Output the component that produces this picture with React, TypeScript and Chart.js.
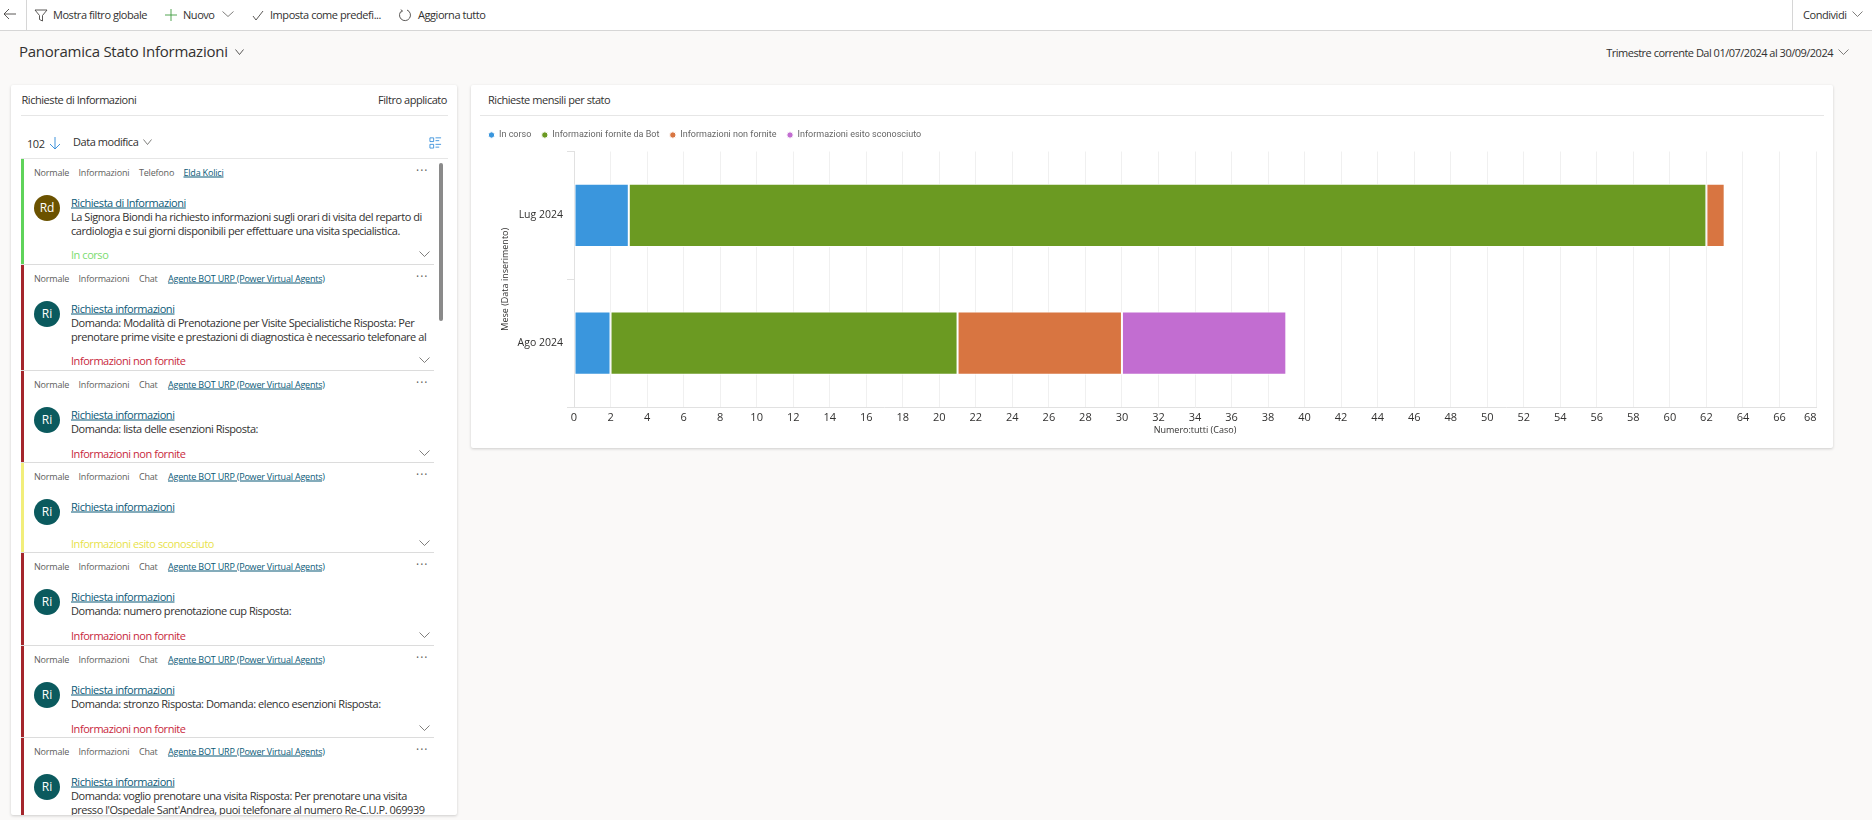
import { useRef, useEffect } from "react";
import { Chart, registerables } from "chart.js";

Chart.register(...registerables);

const months = ["Lug 2024", "Ago 2024"];
const inCorso = [3, 2];
const fornite = [59, 19];
const nonFornite = [1, 9];
const esitoSconosciuto = [null, 9];
const FONT = "'Open Sans', sans-serif";

const BOT = "Agente BOT URP (Power Virtual Agents)";
const TITLE = "Richiesta informazioni";
const NF = "Informazioni non fornite";
const RED = "#a4262c";

const items = [
  { top: 159, h: 106, canale: "Telefono", owner: "Elda Kolici", initials: "Rd", avatar: "#6b5200", bar: "#5fd35a", statusColor: "#7bdc6f", title: "Richiesta di Informazioni", lines: ["La Signora Biondi ha richiesto informazioni sugli orari di visita del reparto di", "cardiologia e sui giorni disponibili per effettuare una visita specialistica."], status: "In corso" },
  { top: 265, h: 106, canale: "Chat", owner: BOT, initials: "Ri", avatar: "#0b5a5e", bar: RED, statusColor: "#c8283c", title: TITLE, lines: ["Domanda: Modalità di Prenotazione per Visite Specialistiche Risposta: Per", "prenotare prime visite e prestazioni di diagnostica è necessario telefonare al"], status: NF },
  { top: 371, h: 92, canale: "Chat", owner: BOT, initials: "Ri", avatar: "#0b5a5e", bar: RED, statusColor: "#c8283c", title: TITLE, lines: ["Domanda: lista delle esenzioni Risposta:"], status: NF },
  { top: 463, h: 90, canale: "Chat", owner: BOT, initials: "Ri", avatar: "#0b5a5e", bar: "#f2ee7a", statusColor: "#e8e24a", title: TITLE, lines: [], status: "Informazioni esito sconosciuto" },
  { top: 553, h: 93, canale: "Chat", owner: BOT, initials: "Ri", avatar: "#0b5a5e", bar: RED, statusColor: "#c8283c", title: TITLE, lines: ["Domanda: numero prenotazione cup Risposta:"], status: NF },
  { top: 646, h: 92, canale: "Chat", owner: BOT, initials: "Ri", avatar: "#0b5a5e", bar: RED, statusColor: "#c8283c", title: TITLE, lines: ["Domanda: stronzo Risposta: Domanda: elenco esenzioni Risposta:"], status: NF },
  { top: 738, h: 106, canale: "Chat", owner: BOT, initials: "Ri", avatar: "#0b5a5e", bar: RED, statusColor: "#c8283c", title: TITLE, lines: ["Domanda: voglio prenotare una visita Risposta: Per prenotare una visita", "presso l'Ospedale Sant'Andrea, puoi telefonare al numero Re-C.U.P. 069939"], status: "" },
];

function T({ x, y, size = 11, ls = -0.45, color = "#323130", right, weight, link, children }: any) {
  return (
    <div
      style={{
        position: "absolute",
        left: right === undefined ? x : undefined,
        right: right === undefined ? undefined : 1872 - right,
        top: y,
        transform: "translateY(-50%)",
        fontSize: size,
        fontWeight: weight,
        letterSpacing: ls,
        color: link ? "#0b5a78" : color,
        textDecoration: link ? "underline" : undefined,
        whiteSpace: "nowrap",
        lineHeight: 1,
      }}
    >
      {children}
    </div>
  );
}

function Chevron({ x, y, w = 10, color = "#605e5c" }: any) {
  return (
    <svg style={{ position: "absolute", left: x - w / 2, top: y - 4 }} width={w} height={8}>
      <polyline points={`0.5,1.5 ${w / 2},6.5 ${w - 0.5},1.5`} fill="none" stroke={color} strokeWidth={0.8} />
    </svg>
  );
}

function Icon({ x, y, size = 14, children }: any) {
  return (
    <svg style={{ position: "absolute", left: x - size / 2, top: y - size / 2 }} width={size} height={size} viewBox="0 0 14 14" fill="none" stroke="#484644" strokeWidth={0.9}>
      {children}
    </svg>
  );
}

function Rule({ x, y, w, color = "#e6e6e6" }: any) {
  return <div style={{ position: "absolute", left: x, top: y, width: w, height: 1, background: color }} />;
}

// leaves 2px between the legend and the plot
const legendGap = {
  id: "legendGap",
  beforeInit(chart: any) {
    const fit = chart.legend.fit;
    chart.legend.fit = function () {
      fit.call(this);
      this.height += 2;
    };
  },
};

function ChartPanel() {
  const canvasRef = useRef<HTMLCanvasElement>(null);

  useEffect(() => {
    if (!canvasRef.current) return;
    const chart = new Chart(canvasRef.current, {
      type: "bar",
      plugins: [legendGap],
      data: {
        labels: months,
        datasets: [
          { label: "In corso", data: inCorso, backgroundColor: "#3a96dd" },
          { label: "Informazioni fornite da Bot", data: fornite, backgroundColor: "#6b9a22" },
          { label: "Informazioni non fornite", data: nonFornite, backgroundColor: "#d87541" },
          { label: "Informazioni esito sconosciuto", data: esitoSconosciuto, backgroundColor: "#c26dd1" },
        ].map((d) => ({ ...d, borderColor: "#ffffff", borderWidth: 1, borderSkipped: false, categoryPercentage: 1, barPercentage: 0.495 })),
      } as any,
      options: {
        indexAxis: "y",
        responsive: false,
        animation: false,
        layout: { padding: { left: 7, right: 17, top: 0, bottom: 0 } },
        plugins: {
          tooltip: { enabled: false },
          legend: {
            position: "top",
            align: "start",
            labels: {
              usePointStyle: true,
              pointStyle: "circle",
              boxWidth: 6,
              boxHeight: 4.5,
              padding: 10.5,
              color: "#666666",
              font: { family: "Roboto", size: 9 },
            },
          },
        },
        scales: {
          x: {
            stacked: true,
            min: 0,
            max: 68,
            afterFit: (s: any) => { s.height = 41; },
            ticks: { stepSize: 2, autoSkip: false, maxRotation: 0, padding: 4, color: "#323130", font: { family: FONT, size: 11 }, callback: (v: any) => (v === 68 ? "68    " : String(v)) },
            grid: { color: "#f0f0f0", drawTicks: false },
            border: { color: "#e1e1e1" },
            title: { display: true, text: "Numero:tutti (Caso)", color: "#323130", padding: { top: 0, bottom: 12 }, font: { family: FONT, size: 9 } },
          },
          y: {
            stacked: true,
            afterFit: (s: any) => { s.width = 96; },
            ticks: { padding: 4, color: "#323130", font: { family: FONT, size: 10.5 } },
            grid: { color: "#e1e1e1", drawOnChartArea: false, tickLength: 7 },
            border: { color: "#e1e1e1" },
            title: { display: true, text: "Mese (Data inserimento)", color: "#323130", padding: { top: 22, bottom: 0 }, font: { family: FONT, size: 9 } },
          },
        },
      } as any,
    });
    return () => chart.destroy();
  }, []);

  return <canvas ref={canvasRef} width={1362} height={328} style={{ position: "absolute", left: 471, top: 120, width: 1362, height: 328 }} />;
}

function Item({ item }: any) {
  const t = item.top;
  const metaX = [34, 78.5, 139];
  const statusY = t + (item.lines.length > 1 ? 95 : item.lines.length === 1 ? 82 : 80);
  return (
    <>
      <div style={{ position: "absolute", left: 21, top: t, width: 2.5, height: item.h, background: item.bar }} />
      <T x={metaX[0]} y={t + 12.5} size={9} ls={-0.2} color="#605e5c">Normale</T>
      <T x={metaX[1]} y={t + 12.5} size={9} ls={-0.2} color="#605e5c">Informazioni</T>
      <T x={metaX[2]} y={t + 12.5} size={9} ls={-0.2} color="#605e5c">{item.canale}</T>
      <T x={item.canale === "Chat" ? 168 : 183.5} y={t + 12.5} size={9} ls={-0.2} link>{item.owner}</T>
      <T x={416} y={t + 12} size={12} ls={1} color="#605e5c">···</T>
      <div style={{ position: "absolute", left: 34, top: t + 36, width: 26, height: 26, borderRadius: 13, background: item.avatar, color: "#fff", fontSize: 12, lineHeight: "26px", textAlign: "center" }}>{item.initials}</div>
      <T x={71} y={t + 43} link>{item.title}</T>
      {item.lines.map((l: string, i: number) => (
        <T key={i} x={71} y={t + 57 + i * 14}>{l}</T>
      ))}
      <T x={71} y={statusY} color={item.statusColor}>{item.status}</T>
      {item.status && <Chevron x={424} y={statusY} w={11} />}
      <Rule x={21} y={t + item.h - 1} w={413} color="#dcdcdc" />
    </>
  );
}

export default function App() {
  return (
    <div style={{ position: "fixed", inset: 0, width: 1872, height: 820, overflow: "hidden", background: "#faf9f8", fontFamily: FONT }}>
      <style>{"body{margin:0}"}</style>

      <div style={{ position: "absolute", left: 0, top: 0, width: 1872, height: 30, background: "#fff", borderBottom: "1px solid #d6d6d6" }} />
      <div style={{ position: "absolute", left: 26, top: 0, width: 1, height: 30, background: "#d6d6d6" }} />
      <div style={{ position: "absolute", left: 1792, top: 0, width: 1, height: 30, background: "#d6d6d6" }} />
      <Icon x={10} y={14}><path d="M13 7H1M6 2L1 7l5 5" /></Icon>
      <Icon x={41} y={15}><path d="M1 2h12L8.5 7.5V13l-3-1.5v-4z" /></Icon>
      <T x={53} y={14}>Mostra filtro globale</T>
      <Icon x={171} y={15}><path d="M7 1v12M1 7h12" stroke="#3f9b3f" /></Icon>
      <T x={183} y={14}>Nuovo</T>
      <Chevron x={228} y={14} w={12} />
      <Icon x={258} y={15}><path d="M2 8l3 4 7-9" /></Icon>
      <T x={270} y={14}>Imposta come predefi...</T>
      <Icon x={405} y={15}><path d="M4 2.5A5.5 5.5 0 1 0 9 2M3 1.5l1.5 1.5L3 4.5" /></Icon>
      <T x={418} y={14}>Aggiorna tutto</T>
      <T x={1803} y={14}>Condividi</T>
      <Chevron x={1857} y={14} w={11} />

      <T x={19} y={51} size={15} ls={-0.25} weight={500}>Panoramica Stato Informazioni</T>
      <Chevron x={239} y={52} w={9} color="#323130" />
      <T right={1833} y={52} ls={-0.5}>Trimestre corrente Dal 01/07/2024 al 30/09/2024</T>
      <Chevron x={1843} y={52} w={11} />

      <div style={{ position: "absolute", left: 11, top: 85, width: 446, height: 730, background: "#fff", boxShadow: "0 1px 3px rgba(0,0,0,.18)", borderRadius: 2 }} />
      <T x={21.5} y={99}>Richieste di Informazioni</T>
      <T right={447} y={99}>Filtro applicato</T>
      <Rule x={21} y={115} w={427} />
      <T x={27} y={143}>102</T>
      <Icon x={55} y={143} size={14}><path d="M7 1v12M2 8l5 5 5-5" stroke="#2b88d8" /></Icon>
      <T x={73} y={141}>Data modifica</T>
      <Chevron x={147} y={142} w={9} />
      <Icon x={435} y={142} size={13}><path d="M1 2h4v4H1zM1 9h4v4H1zM7 2h6M7 5h4M7 9h6M7 12h4" stroke="#2b88d8" /></Icon>
      <Rule x={21} y={158} w={427} />

      <div style={{ position: "absolute", left: 0, top: 0, width: 457, height: 815, overflow: "hidden" }}>
        {items.map((it, i) => (
          <Item key={i} item={it} />
        ))}
      </div>
      <div style={{ position: "absolute", left: 439, top: 163, width: 4, height: 158, borderRadius: 2, background: "#8a8a8a" }} />

      <div style={{ position: "absolute", left: 471, top: 85, width: 1362, height: 363, background: "#fff", boxShadow: "0 1px 3px rgba(0,0,0,.18)", borderRadius: 2 }} />
      <T x={488} y={99}>Richieste mensili per stato</T>
      <Rule x={480} y={115} w={1344} />
      <ChartPanel />
    </div>
  );
}
